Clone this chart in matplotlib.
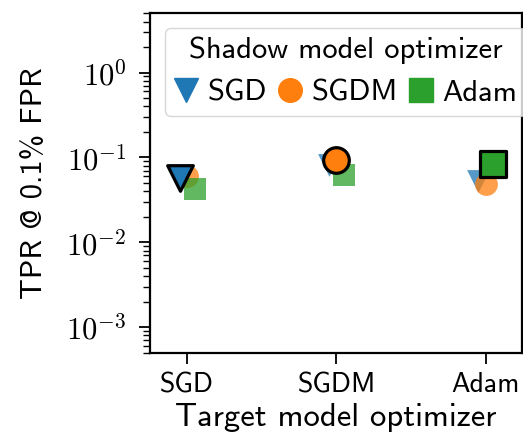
import numpy as np
import matplotlib
matplotlib.use("Agg")
import matplotlib.pyplot as plt
from matplotlib.lines import Line2D
from matplotlib.ticker import FuncFormatter

plt.rcParams['font.family'] = ['cmss10', 'DejaVu Sans']
plt.rcParams['mathtext.fontset'] = 'cm'

# optimizers used for the target (x axis) and shadow models (series)
target_opts = ['SGD', 'SGDM', 'Adam']
shadow_opts = ['SGD', 'SGDM', 'Adam']

# TPR at 0.1% FPR, one list per shadow optimizer, indexed by target optimizer
tpr_sgd = [0.057, 0.081, 0.053]
tpr_sgdm = [0.060, 0.093, 0.049]
tpr_adam = [0.043, 0.062, 0.083]

tpr = [tpr_sgd, tpr_sgdm, tpr_adam]
colors = ['#1f77b4', '#ff7f0e', '#2ca02c']
markers = ['v', 'o', 's']
offsets = [-0.05, 0.0, 0.05]

fig = plt.figure(figsize=(5.23, 4.43), dpi=100)
ax = fig.add_axes([150/523, 90.3/443, 371.5/523, 339.4/443])

for j in range(len(shadow_opts)):
    for i in range(len(target_opts)):
        x = i + offsets[j]
        if i == j:
            # matching optimizers get a bold outline on top
            ax.scatter(x, tpr[j][i], s=340, marker=markers[j], color=colors[j],
                       edgecolors='black', linewidths=2.3, zorder=5)
        else:
            ax.scatter(x, tpr[j][i], s=270, marker=markers[j], color=colors[j],
                       alpha=0.75, linewidths=0, zorder=3)

ax.set_yscale('log')
ax.set_ylim(5e-4, 5)
ax.set_xlim(-0.25, 2.24)
ax.set_xticks(range(len(target_opts)))
ax.set_xticklabels(target_opts)
ax.set_yticks([1e-3, 1e-2, 1e-1, 1e0])
ax.yaxis.set_major_formatter(FuncFormatter(lambda v, p: r'$10^{%d}$' % round(np.log10(v))))

ax.set_xlabel('Target model optimizer', fontsize=23.5, labelpad=4)
ax.set_ylabel('TPR @ 0.1% FPR', fontsize=22, labelpad=13)
ax.tick_params(axis='both', which='major', length=8, width=1.3)
ax.tick_params(axis='x', labelsize=20, pad=6)
ax.tick_params(axis='y', labelsize=22, pad=9)
ax.tick_params(axis='y', which='minor', length=5, width=1.0)
for sp in ax.spines.values():
    sp.set_linewidth(1.6)

handles = [Line2D([], [], linestyle='none', marker=markers[j], color=colors[j],
                  markersize=17) for j in range(3)]
leg = ax.legend(handles, shadow_opts, title='Shadow model optimizer', ncol=3,
                loc='upper right', bbox_to_anchor=(1.012, 0.958), borderaxespad=0,
                fontsize=22, title_fontsize=22, handletextpad=0.3,
                columnspacing=0.35, handlelength=0.8, borderpad=0.3)

fig.savefig('out.png', dpi=100)
